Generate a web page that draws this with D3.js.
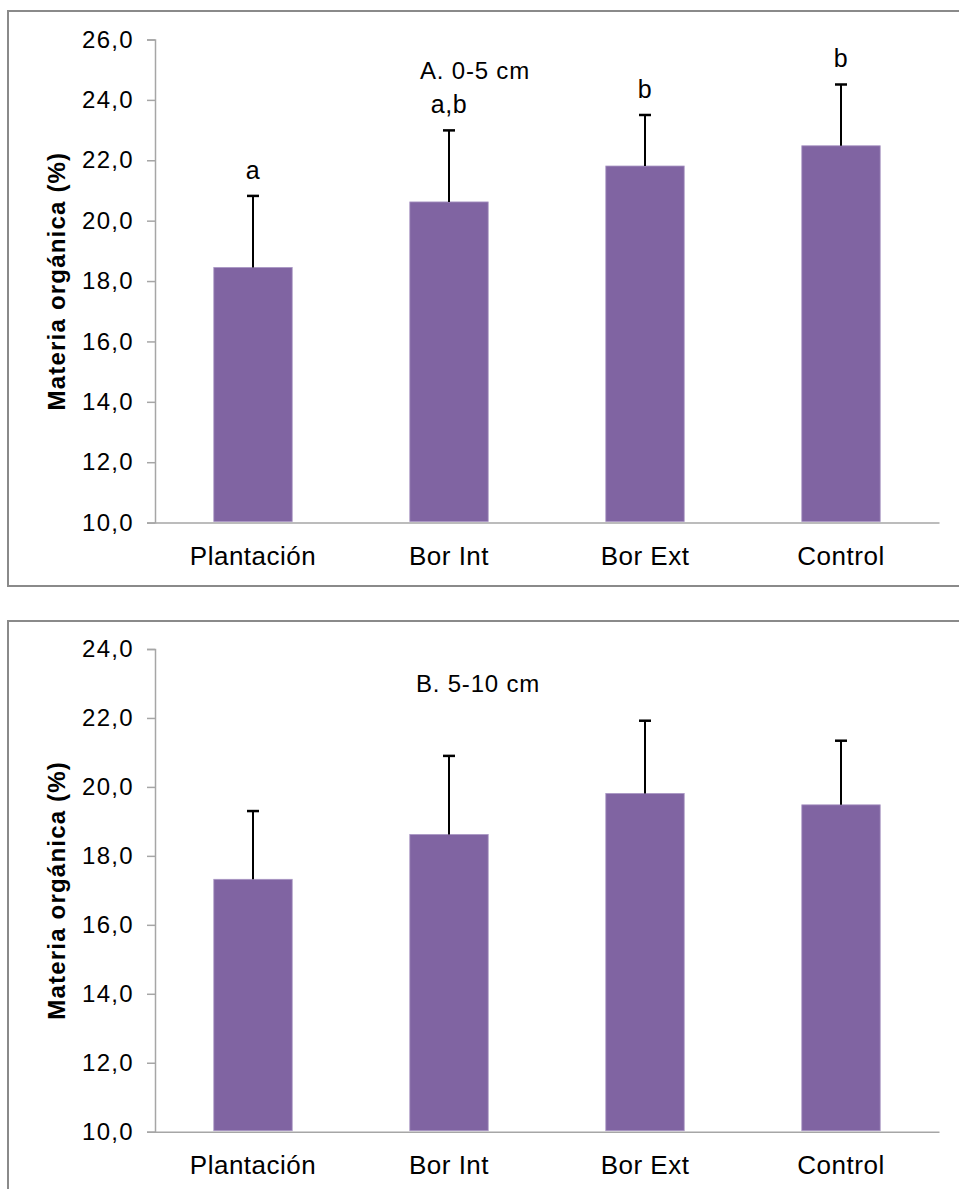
<!DOCTYPE html>
<html>
<head>
<meta charset="utf-8">
<script src="https://cdn.jsdelivr.net/npm/d3@7"></script>
<style>
  html, body { margin: 0; padding: 0; background: #fff; }
  svg { display: block; font-family: "Liberation Sans", Arial, sans-serif; }
</style>
</head>
<body>
<svg id="chart" width="959" height="1189"></svg>
<script>
// Sampling sites
const categories = ["Plantación", "Bor Int", "Bor Ext", "Control"];

// A. 0-5 cm depth: organic matter mean and standard deviation (%)
const meansA = [18.45, 20.62, 21.81, 22.48];
const sdA = [2.37, 2.37, 1.69, 2.03];
const lettersA = ["a", "a,b", "b", "b"];
const ticksA = [10, 12, 14, 16, 18, 20, 22, 24, 26];

// B. 5-10 cm depth
const meansB = [17.32, 18.62, 19.81, 19.48];
const sdB = [1.98, 2.28, 2.11, 1.86];
const ticksB = [10, 12, 14, 16, 18, 20, 22, 24];

const svg = d3.select("#chart");
const fmt = v => v.toFixed(1).replace(".", ",");
const FONT = "'Liberation Sans', Arial, sans-serif";

function panel(opts) {
  const g = svg.append("g");
  // frame around the panel
  g.append("rect")
    .attr("x", opts.frame.x).attr("y", opts.frame.y)
    .attr("width", opts.frame.w).attr("height", opts.frame.h)
    .attr("fill", "#fff").attr("stroke", "#8a8a8a").attr("stroke-width", 2);

  const x = d3.scaleBand().domain(categories)
    .range([opts.left, opts.right]).paddingInner(0.6).paddingOuter(0.3);
  const y = d3.scaleLinear().domain(d3.extent(opts.ticks))
    .range([opts.bottom, opts.top]);

  // y axis
  const yAxis = g.append("g")
    .attr("transform", `translate(${opts.left},0)`)
    .call(d3.axisLeft(y).tickValues(opts.ticks).tickFormat(fmt).tickSize(8).tickPadding(13));
  yAxis.select(".domain").attr("stroke", "#a6a6a6").attr("stroke-width", 1.5);
  yAxis.selectAll(".tick line").attr("stroke", "#a6a6a6").attr("stroke-width", 1.5);
  yAxis.selectAll(".tick text").attr("fill", "#000")
    .style("font-size", "24px").style("letter-spacing", "1.3px")
    .style("font-family", FONT);

  // x axis
  const xAxis = g.append("g")
    .attr("transform", `translate(0,${opts.bottom})`)
    .call(d3.axisBottom(x).tickSize(0).tickPadding(24));
  xAxis.select(".domain").attr("stroke", "#a6a6a6").attr("stroke-width", 1.5);
  xAxis.selectAll(".tick text").attr("fill", "#000")
    .style("font-size", "26px").style("letter-spacing", "0.5px")
    .style("font-family", FONT);

  // bars
  g.selectAll("rect.bar").data(opts.means).join("rect")
    .attr("class", "bar")
    .attr("x", (d, i) => x(categories[i]))
    .attr("width", x.bandwidth())
    .attr("y", d => y(d))
    .attr("height", d => opts.bottom - y(d) - 1)
    .attr("fill", "#8064a2")
    .attr("stroke", "#a996c4").attr("stroke-width", 0.8);

  // error bars (upper only)
  const cx = i => x(categories[i]) + x.bandwidth() / 2;
  g.selectAll("line.err").data(opts.means).join("line")
    .attr("class", "err")
    .attr("x1", (d, i) => cx(i)).attr("x2", (d, i) => cx(i))
    .attr("y1", d => y(d)).attr("y2", (d, i) => y(d + opts.sd[i]))
    .attr("stroke", "#000").attr("stroke-width", 2);
  g.selectAll("line.cap").data(opts.means).join("line")
    .attr("class", "cap")
    .attr("x1", (d, i) => cx(i) - 6).attr("x2", (d, i) => cx(i) + 6)
    .attr("y1", (d, i) => y(d + opts.sd[i])).attr("y2", (d, i) => y(d + opts.sd[i]))
    .attr("stroke", "#000").attr("stroke-width", 2.5);

  // significance letters
  if (opts.letters) {
    g.selectAll("text.letter").data(opts.letters).join("text")
      .attr("class", "letter")
      .attr("x", (d, i) => cx(i))
      .attr("y", (d, i) => y(opts.means[i] + opts.sd[i]) - 17)
      .attr("text-anchor", "middle")
      .style("font-size", "25px").style("letter-spacing", "0.5px")
      .text(d => d);
  }

  // panel title
  g.append("text")
    .attr("x", opts.titleX).attr("y", opts.titleY)
    .attr("text-anchor", "middle")
    .style("font-size", "24px").style("letter-spacing", "0.8px")
    .text(opts.title);

  // y axis title
  g.append("text")
    .attr("transform", `translate(65,${(opts.top + opts.bottom) / 2}) rotate(-90)`)
    .attr("text-anchor", "middle")
    .style("font-size", "24px").style("font-weight", "bold")
    .style("letter-spacing", "1.2px")
    .text("Materia orgánica (%)");
}

panel({
  frame: { x: 8, y: 11, w: 970, h: 575 },
  left: 155, right: 939, top: 39.5, bottom: 522.6,
  ticks: ticksA, means: meansA, sd: sdA, letters: lettersA,
  title: "A. 0-5 cm", titleX: 475, titleY: 79
});

panel({
  frame: { x: 8, y: 621, w: 970, h: 600 },
  left: 155, right: 939, top: 649, bottom: 1131.7,
  ticks: ticksB, means: meansB, sd: sdB,
  title: "B. 5-10 cm", titleX: 478, titleY: 692
});
</script>
</body>
</html>
